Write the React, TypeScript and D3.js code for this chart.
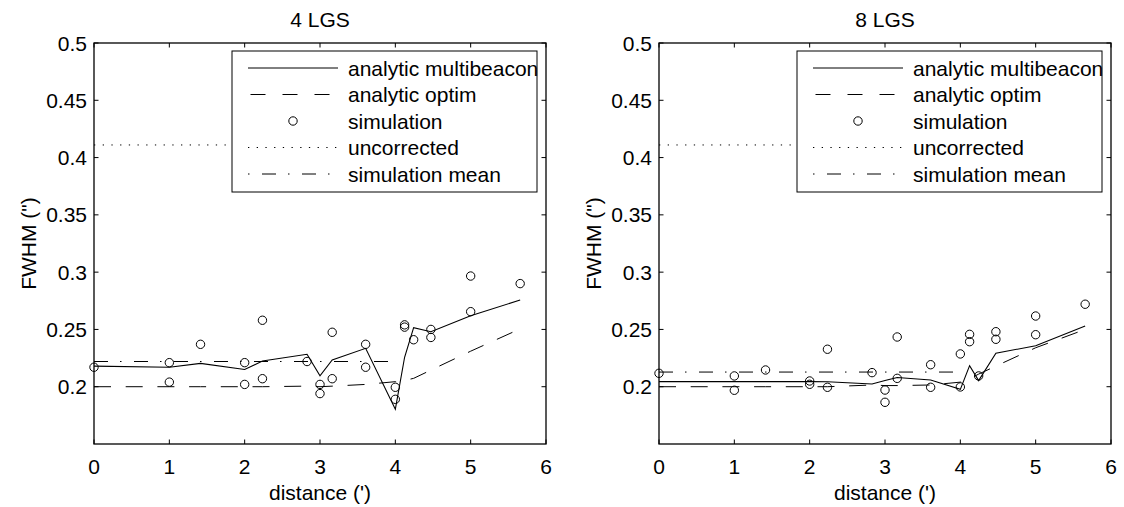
import React from "react";
import * as d3 from "d3";

// distances (arcmin) at which analytic curves are evaluated
const distances = [0, 1, 1.414, 2, 2.236, 2.828, 3, 3.162, 3.606, 4, 4.123, 4.243, 4.472, 5, 5.657];

// 4 LGS
const multibeacon4 = [0.218, 0.217, 0.2204, 0.215, 0.2224, 0.2283, 0.2096, 0.2233, 0.2335, 0.1803, 0.2257, 0.2515, 0.248, 0.262, 0.2757];
const optim4 = [0.2, 0.2, 0.2, 0.2, 0.2, 0.2005, 0.2, 0.2005, 0.202, 0.2044, 0.2055, 0.2073, 0.2145, 0.231, 0.2505];
const simDist4 = [0, 1, 1, 1.414, 2, 2, 2.236, 2.236, 2.828, 3, 3, 3.162, 3.162, 3.606, 3.606, 4, 4, 4.123, 4.123, 4.243, 4.472, 4.472, 5, 5, 5.657];
const simVal4 = [0.217, 0.221, 0.204, 0.237, 0.221, 0.202, 0.258, 0.207, 0.222, 0.202, 0.194, 0.2475, 0.207, 0.237, 0.217, 0.1995, 0.189, 0.254, 0.252, 0.241, 0.25, 0.243, 0.2966, 0.2655, 0.29];
const mean4 = 0.222;

// 8 LGS
const multibeacon8 = [0.2044, 0.2044, 0.2044, 0.2044, 0.2043, 0.2024, 0.2055, 0.208, 0.2059, 0.1977, 0.2184, 0.2053, 0.2292, 0.2358, 0.253];
const optim8 = [0.2, 0.2, 0.2, 0.2, 0.2, 0.2015, 0.201, 0.201, 0.2015, 0.204, 0.207, 0.211, 0.218, 0.234, 0.25];
const simDist8 = [0, 1, 1, 1.414, 2, 2, 2.236, 2.236, 2.828, 3, 3, 3.162, 3.162, 3.606, 3.606, 4, 4, 4.123, 4.123, 4.243, 4.472, 4.472, 5, 5, 5.657];
const simVal8 = [0.2117, 0.2094, 0.1969, 0.2146, 0.205, 0.2021, 0.2327, 0.1995, 0.2123, 0.1971, 0.1864, 0.2434, 0.2073, 0.2192, 0.1995, 0.2286, 0.1998, 0.2457, 0.2393, 0.2094, 0.248, 0.2414, 0.2617, 0.2454, 0.272];
const mean8 = 0.2128;

const uncorrected = 0.411;
const meanRange = [0, 4];
const uncorrRange = [0, 5.657];

const xTicks = [0, 1, 2, 3, 4, 5, 6];
const yTicks = [0.2, 0.25, 0.3, 0.35, 0.4, 0.45, 0.5];
const yTickLabels = ["0.2", "0.25", "0.3", "0.35", "0.4", "0.45", "0.5"];
const legendLabels = ["analytic multibeacon", "analytic optim", "simulation", "uncorrected", "simulation mean"];

const FONT = "'Liberation Sans', Arial, Helvetica, sans-serif";
const FS = 21;
const DASH = "17,14.7";
const DOT = "1.3,7.4";
const DASHDOT = "14,12,1.5,12.5";

type PanelProps = {
  left: number;
  title: string;
  mb: number[];
  opt: number[];
  sd: number[];
  sv: number[];
  mean: number;
  ylabelX: number;
};

function Panel({ left, title, mb, opt, sd, sv, mean, ylabelX }: PanelProps) {
  const width = 452;
  const top = 43;
  const bottom = 444;
  const x = d3.scaleLinear().domain([0, 6]).range([left, left + width]);
  const y = d3.scaleLinear().domain([0.15, 0.5]).range([bottom, top]);
  const line = d3
    .line<number>()
    .x((_, i) => x(distances[i]))
    .y((v) => y(v));
  const tick = 4.5;
  const right = left + width;

  // legend geometry
  const lgL = left + 138;
  const lgR = left + 443;
  const lgT = 51;
  const lgB = 192;
  const sampleL = left + 154;
  const sampleR = left + 244;
  const sampleC = (sampleL + sampleR) / 2;
  const textX = left + 254;
  const rowY = (i: number) => 68 + i * 26.5;

  return (
    <g>
      <text x={(left + right) / 2} y={27} textAnchor="middle" fontSize={FS} fontFamily={FONT}>
        {title}
      </text>
      {/* data */}
      <line
        x1={x(uncorrRange[0])}
        x2={x(uncorrRange[1])}
        y1={y(uncorrected)}
        y2={y(uncorrected)}
        stroke="#000"
        strokeWidth={1}
        strokeDasharray={DOT}
      />
      <line
        x1={x(meanRange[0])}
        x2={x(meanRange[1])}
        y1={y(mean)}
        y2={y(mean)}
        stroke="#000"
        strokeWidth={1}
        strokeDasharray={DASHDOT}
      />
      <path d={line(opt) || ""} fill="none" stroke="#000" strokeWidth={1} strokeDasharray={DASH} />
      <path d={line(mb) || ""} fill="none" stroke="#000" strokeWidth={1.1} />
      {sd.map((d, i) => (
        <circle key={i} cx={x(d)} cy={y(sv[i])} r={4.2} fill="none" stroke="#000" strokeWidth={1} />
      ))}

      {/* axes box */}
      <rect x={left} y={top} width={width} height={bottom - top} fill="none" stroke="#000" strokeWidth={1.3} />
      {xTicks.map((t) => (
        <g key={"x" + t}>
          <line x1={x(t)} x2={x(t)} y1={bottom} y2={bottom - tick} stroke="#000" strokeWidth={1} />
          <line x1={x(t)} x2={x(t)} y1={top} y2={top + tick} stroke="#000" strokeWidth={1} />
          <text x={x(t)} y={474} textAnchor="middle" fontSize={FS} fontFamily={FONT}>
            {t}
          </text>
        </g>
      ))}
      {yTicks.map((t, i) => (
        <g key={"y" + t}>
          <line x1={left} x2={left + tick} y1={y(t)} y2={y(t)} stroke="#000" strokeWidth={1} />
          <line x1={right} x2={right - tick} y1={y(t)} y2={y(t)} stroke="#000" strokeWidth={1} />
          <text x={left - 7} y={y(t)} dy="0.36em" textAnchor="end" fontSize={FS} fontFamily={FONT}>
            {yTickLabels[i]}
          </text>
        </g>
      ))}
      <text x={(left + right) / 2} y={500} textAnchor="middle" fontSize={FS} fontFamily={FONT}>
        distance (')
      </text>
      <text
        transform={`translate(${ylabelX},${(top + bottom) / 2}) rotate(-90)`}
        textAnchor="middle"
        dy="0.36em"
        fontSize={FS}
        fontFamily={FONT}
      >
        FWHM (")
      </text>

      {/* legend */}
      <rect x={lgL} y={lgT} width={lgR - lgL} height={lgB - lgT} fill="#fff" stroke="#000" strokeWidth={1} />
      <line x1={sampleL} x2={sampleR} y1={rowY(0)} y2={rowY(0)} stroke="#000" strokeWidth={1} />
      <line
        x1={sampleL}
        x2={sampleR}
        y1={rowY(1)}
        y2={rowY(1)}
        stroke="#000"
        strokeWidth={1}
        strokeDasharray="15,17"
        strokeDashoffset={29.5}
      />
      <circle cx={sampleC} cy={rowY(2)} r={4.2} fill="none" stroke="#000" strokeWidth={1} />
      <line x1={sampleL} x2={sampleR} y1={rowY(3)} y2={rowY(3)} stroke="#000" strokeWidth={1} strokeDasharray={DOT} />
      <line
        x1={sampleL}
        x2={sampleR}
        y1={rowY(4)}
        y2={rowY(4)}
        stroke="#000"
        strokeWidth={1}
        strokeDasharray="1.5,12.5,14,12"
      />
      {legendLabels.map((l, i) => (
        <text key={l} x={textX} y={rowY(i)} dy="0.36em" fontSize={FS} fontFamily={FONT}>
          {l}
        </text>
      ))}
    </g>
  );
}

export default function App() {
  return (
    <svg
      width={1124}
      height={507}
      viewBox="0 0 1124 507"
      style={{ position: "absolute", left: 0, top: 0, background: "#fff" }}
    >
      <rect x={0} y={0} width={1124} height={507} fill="#fff" />
      <Panel left={94} title="4 LGS" mb={multibeacon4} opt={optim4} sd={simDist4} sv={simVal4} mean={mean4} ylabelX={28} />
      <Panel left={659} title="8 LGS" mb={multibeacon8} opt={optim8} sd={simDist8} sv={simVal8} mean={mean8} ylabelX={593} />
    </svg>
  );
}
